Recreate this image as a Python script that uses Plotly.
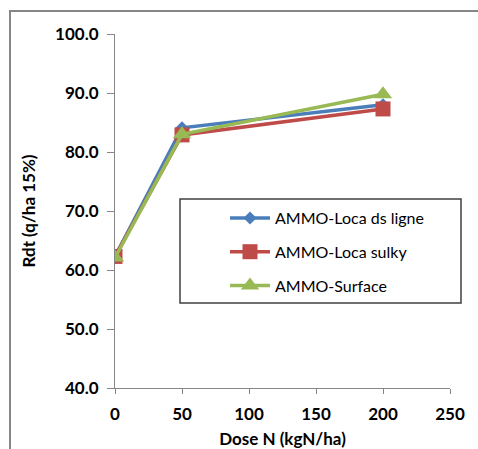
import plotly.graph_objects as go

dose = [0, 50, 200]
loca_ligne = [62.3, 84.1, 88.0]
loca_sulky = [62.3, 82.9, 87.3]
surface = [62.1, 83.0, 89.8]

names = ["AMMO-Loca ds ligne", "AMMO-Loca sulky", "AMMO-Surface"]
colors = ["#4A7EBB", "#BE4B48", "#98B954"]
symbols = ["diamond", "square", "triangle-up"]
sizes = [10, 15, 16]
series = [loca_ligne, loca_sulky, surface]

fig = go.Figure()
for i, (n, c, s, sz, y) in enumerate(zip(names, colors, symbols, sizes, series)):
    fig.add_trace(go.Scatter(
        x=dose, y=y, name=n, mode="lines+markers",
        line=dict(color=c, width=3.5),
        marker=dict(symbol=s, size=sz, color=c),
        legendgroup=f"g{i}",
    ))

font_family = "Lato, 'Open Sans', sans-serif"
L, R, T, B = 115, 28, 34, 61
W, H = 478, 449
pw, ph = W - L - R, H - T - B

def px(xp):
    return (xp - L) / pw

def py(yp):
    return (H - B - yp) / ph

fig.update_layout(
    width=W, height=H,
    margin=dict(l=L, r=R, t=T, b=B, autoexpand=False),
    paper_bgcolor="white", plot_bgcolor="white",
    font=dict(family=font_family, color="black"),
    showlegend=True,
    legend=dict(
        x=px(225), y=py(201), xanchor="left", yanchor="top",
        bgcolor="rgba(0,0,0,0)", borderwidth=0,
        font=dict(size=16, color="black"),
        tracegroupgap=10,
        itemwidth=40,
    ),
    xaxis=dict(
        range=[0, 250], tickvals=[0, 50, 100, 150, 200, 250],
        showgrid=False, zeroline=False, automargin=False,
        showline=True, linecolor="#868686", linewidth=1,
        ticks="outside", ticklen=5, tickcolor="#868686",
        ticklabelstandoff=6,
        tickfont=dict(size=17, family=font_family, weight="bold"),
        title=dict(text="Dose N (kgN/ha)", font=dict(size=17, weight="bold")),
    ),
    yaxis=dict(
        range=[40, 100], tickvals=[40, 50, 60, 70, 80, 90, 100],
        tickformat=".1f",
        showgrid=False, zeroline=False, automargin=False,
        showline=True, linecolor="#868686", linewidth=1,
        ticks="outside", ticklen=7, tickcolor="#868686",
        ticklabelstandoff=5,
        tickfont=dict(size=17, family=font_family, weight="bold"),
        title=dict(text="Rdt (q/ha 15%)", font=dict(size=17, weight="bold")),
    ),
    shapes=[
        dict(type="rect", xref="paper", yref="paper",
             x0=px(10), x1=px(490), y0=py(460), y1=py(11),
             line=dict(color="#868686", width=2), fillcolor="rgba(0,0,0,0)", layer="below"),
        dict(type="rect", xref="paper", yref="paper",
             x0=px(180), x1=px(461), y0=py(303), y1=py(199),
             line=dict(color="#404040", width=1.5), fillcolor="white", layer="below"),
    ],
)

fig.write_html("out.html")
